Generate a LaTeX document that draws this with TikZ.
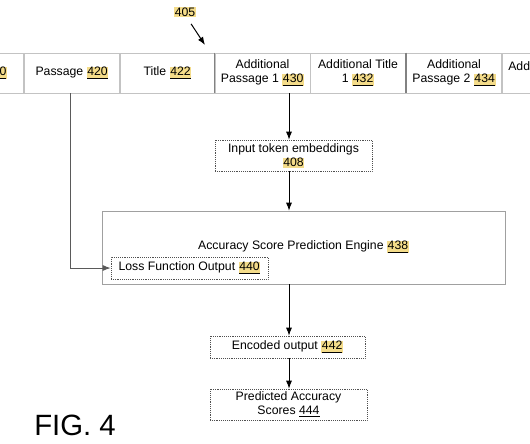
\documentclass[tikz,border=0pt]{standalone}
\usepackage{fontspec}
\setmainfont{Liberation Sans}
\usepackage{xcolor}
\usetikzlibrary{arrows.meta}

\definecolor{hilite}{RGB}{244,220,138}
\newcommand{\refnum}[1]{{\setlength{\fboxsep}{0.5pt}\colorbox{hilite}{\underline{#1}}}}
\newcommand{\refhl}[1]{{\setlength{\fboxsep}{0.5pt}\colorbox{hilite}{#1}}}

\tikzset{
  cell/.style={draw={rgb,255:red,195;green,195;blue,195}, minimum width=71.6pt, minimum height=30pt, inner sep=0pt, align=center},
  dotbox/.style={draw={rgb,255:red,80;green,80;blue,80}, densely dotted, inner sep=0pt, align=center},
  arr/.style={-{Latex[length=6pt,width=4.5pt]}, line width=0.75},
}

\begin{document}
\begin{tikzpicture}[x=0.75pt,y=0.75pt,yscale=-1,xscale=1,font=\fontsize{9.2}{10.8}\selectfont]
\clip (0,0) rectangle (530,443);

%Shape: Rectangle [cells]
\node (c410) at (-24,73) [cell] {};
\node (c420) at (72,73) [cell] {Passage \refnum{420}};
\node (c422) at (167.5,73) [cell] {Title \refnum{422}};
\node (c430) at (262.5,73) [cell] {Additional\\Passage 1 \refnum{430}};
\node (c432) at (358,73) [cell] {Additional Title\\1 \refnum{432}};
\node (c434) at (454,73) [cell] {Additional\\Passage 2 \refnum{434}};
\node (c436) at (550,73) [cell] {};
%Straight Lines [dividers]
\draw [color={rgb, 255:red, 130; green, 130; blue, 130 }, line width=0.9] (c430.north west) -- (c430.south west) ;
\draw [color={rgb, 255:red, 130; green, 130; blue, 130 }, line width=0.9] (c434.north west) -- (c434.south west) ;

% Text Node
\node (n410) at (3,73) {\refnum{0}};
% Text Node
\node (n436) [anchor=west, inner sep=0pt] at (508,66) {Add};
% Text Node
\node (l405) at (185,12) {\refhl{405}};
\coordinate (a405) at (205,45);
\draw [arr, shorten <=2pt] ([xshift=3.5pt]l405.south) -- (a405) ;

\coordinate (spine) at (289,0);

%Shape: Rectangle [id:input]
\node (input) at (293.5,155.5) [dotbox, minimum width=117.75pt, minimum height=23.25pt] {Input token embeddings\\\refhl{408}};
%Shape: Rectangle [id:engine]
\node (engine) at (303.5,247.5) [draw={rgb,255:red,160;green,160;blue,160}, minimum width=302.25pt, minimum height=54.75pt] {};
% Text Node
\node (englbl) at (303.5,247) {Accuracy Score Prediction Engine \refnum{438}};
%Shape: Rectangle [id:loss]
\node (loss) at (189.5,268) [dotbox, minimum width=117.75pt, minimum height=16.5pt] {Loss Function Output \refnum{440}};
%Shape: Rectangle [id:encoded]
\node (encoded) at (287.5,347) [dotbox, minimum width=116.25pt, minimum height=16.5pt] {Encoded output \refnum{442}};
%Shape: Rectangle [id:scores]
\node (scores) at (288.5,404.5) [dotbox, minimum width=117.75pt, minimum height=23.25pt] {Predicted Accuracy\\Scores \underline{444}};

%Straight Lines [connectors]
\draw [arr] (c430.south -| spine) -- (input.north -| spine) ;
\draw [arr] (input.south -| spine) -- (engine.north -| spine) ;
\draw [arr] (engine.south -| spine) -- (encoded.north -| spine) ;
\draw [arr] (encoded.south -| spine) -- (scores.north -| spine) ;
\draw [arr, color={rgb, 255:red, 90; green, 90; blue, 90 }] ([xshift=-1.5pt]c420.south) |- (loss.west) ;

% Text Node
\node (fig) at (75,425) {\fontsize{22}{26}\selectfont FIG. 4};

\end{tikzpicture}
\end{document}
